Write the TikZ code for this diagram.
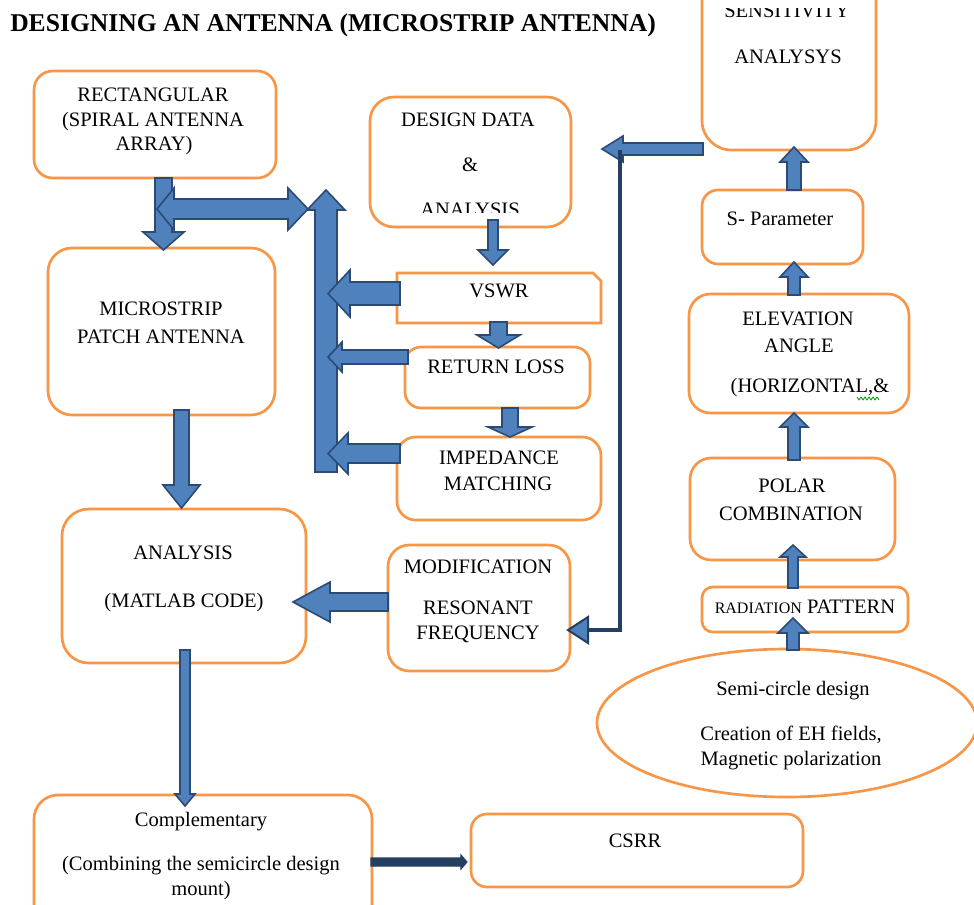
\documentclass[tikz,border=0pt]{standalone}
\usepackage{fontspec}
\setmainfont{Liberation Serif}
\usetikzlibrary{shapes.geometric}
\definecolor{boxor}{HTML}{F79646}
\definecolor{arrfill}{HTML}{4F81BD}
\definecolor{arrline}{HTML}{2C4A74}
\definecolor{darkln}{HTML}{243F60}
\newcommand\mkbox[6]{\node[boxst, rounded corners=#6, minimum width={(#4-#2)*0.75pt}, minimum height={(#5-#3)*0.75pt}] (#1) at ({(#2+#4)/2},{(#3+#5)/2}) {};}
\newcommand\blkH[6]{\filldraw[barrow] (#3,#1) -- (#4,#1) -- (#4,{#1-#6}) -- (#5,{(#1+#2)/2}) -- (#4,{#2+#6}) -- (#4,#2) -- (#3,#2) -- cycle;}
\newcommand\blkV[6]{\filldraw[barrow] (#1,#3) -- (#1,#4) -- ({#1-#6},#4) -- ({(#1+#2)/2},#5) -- ({#2+#6},#4) -- (#2,#4) -- (#2,#3) -- cycle;}
\begin{document}
\begin{tikzpicture}[x=0.75pt,y=-0.75pt,
  boxst/.style={draw=boxor, line width=2pt, inner sep=0pt, outer sep=0pt},
  txt/.style={anchor=base, inner sep=0pt, font=\fontsize{15.4}{18}\selectfont},
  barrow/.style={fill=arrfill, draw=arrline, line width=1.2pt, line join=miter}]
\useasboundingbox (0,0) rectangle (974,904);
\fill[white] (0,0) rectangle (974,904);

% title
\node[anchor=base west, inner sep=0pt, font=\fontsize{19.2}{22}\selectfont\bfseries] (title) at (10,31) {DESIGNING AN ANTENNA (MICROSTRIP ANTENNA)};

% boxes
\mkbox{rect}{34}{71}{276}{178}{14pt}
\mkbox{micro}{48}{248}{275}{415}{18pt}
\mkbox{design}{370}{97}{571}{227}{18pt}
\node[inner sep=0pt, outer sep=0pt, minimum width={204*0.75pt}, minimum height={50*0.75pt}] (vswr) at (499,298) {};
\draw[draw=boxor, line width=2pt] (vswr.south west) -- (vswr.north west) -- ([xshift=-6pt]vswr.north east) -- ([yshift=-6pt]vswr.north east) -- (vswr.south east) -- cycle;
\mkbox{retl}{405}{347}{590}{408}{12pt}
\mkbox{imped}{397}{437}{601}{520}{14pt}
\mkbox{anal}{62}{509}{306}{663}{20pt}
\mkbox{modif}{388}{545}{570}{671}{16pt}
\mkbox{sens}{702}{-40}{876}{150}{22pt}
\mkbox{spar}{702}{190}{863}{264}{12pt}
\mkbox{elev}{689}{294}{909}{413}{16pt}
\mkbox{polar}{690}{458}{895}{560}{16pt}
\mkbox{radp}{702}{587}{908}{632}{8pt}
\node[ellipse, draw=boxor, line width=2pt, inner sep=0pt, minimum width={380*0.75pt}, minimum height={148*0.75pt}] (semi) at (787,723) {};
\mkbox{compl}{34}{795}{372}{935}{18pt}
\mkbox{csrr}{471}{814}{803}{887}{12pt}

% texts
\node[txt] (tR1) at (153,101.7) {RECTANGULAR};
\node[txt] (tR2) at (153,126.7) {(SPIRAL ANTENNA};
\node[txt] (tR3) at (154,150.7) {ARRAY)};
\node[txt] (tM1) at (161,315) {MICROSTRIP};
\node[txt] (tM2) at (161,343) {PATCH ANTENNA};
\node[txt] (tD1) at (468,126.7) {DESIGN DATA};
\node[txt] (tD2) at (470,171.7) {\&};
\begin{scope}
\clip (370,97) rectangle (571,212);
\node[txt] (tD3) at (470,216) {ANALYSIS};
\end{scope}
\node[txt] (tV) at (499,297) {VSWR};
\node[txt] (tRL) at (496,373) {RETURN LOSS};
\node[txt] (tI1) at (499,464) {IMPEDANCE};
\node[txt] (tI2) at (498,490) {MATCHING};
\node[txt] (tA1) at (183,559) {ANALYSIS};
\node[txt] (tA2) at (184,607) {(MATLAB CODE)};
\node[txt] (tMo1) at (478,573) {MODIFICATION};
\node[txt] (tMo2) at (478,614) {RESONANT};
\node[txt] (tMo3) at (478,639) {FREQUENCY};
\begin{scope}
\clip (702,8) rectangle (876,100);
\node[txt] (tS1) at (787,17) {SENSITIVITY};
\end{scope}
\node[txt] (tS2) at (788,63) {ANALYSYS};
\node[txt] (tSP) at (780,225) {S- Parameter};
\node[txt] (tE1) at (798,325) {ELEVATION};
\node[txt] (tE2) at (799,352) {ANGLE};
\node[txt] (tE3) at (810,392) {(HORIZONTAL,\&};
\draw[green!60!black, line width=0.6pt] (857,397) -- (859,400) -- (861,397) -- (863,400) -- (865,397) -- (867,400) -- (869,397) -- (871,400) -- (873,397) -- (875,400) -- (877,397) -- (879,400);
\node[txt] (tP1) at (792,492) {POLAR};
\node[txt] (tP2) at (791,520) {COMBINATION};
\node[txt] (tRP) at (805,613) {{\fontsize{12}{14}\selectfont RADIATION} PATTERN};
\node[txt] (tSe1) at (793,695) {Semi-circle design};
\node[txt] (tSe2) at (791,740) {Creation of EH fields,};
\node[txt] (tSe3) at (791,765) {Magnetic polarization};
\node[txt] (tC1) at (201,826.7) {Complementary};
\node[txt] (tC2) at (201,870) {(Combining the semicircle design};
\node[txt] (tC3) at (201,895) {mount)};
\node[txt] (tCS) at (635,847) {CSRR};

% block arrows
\blkV{155}{172}{178}{232}{250}{12}
\filldraw[barrow] (157,209) -- (174,188) -- (174,199) -- (288,199) -- (288,188) -- (308,209) -- (288,230) -- (288,219) -- (174,219) -- (174,230) -- cycle;
\blkV{315}{337}{472}{210}{190}{8}
\blkH{282}{305}{400}{350}{328}{12}
\blkH{350}{364}{408}{342}{328}{8}
\blkH{444}{463}{400}{348}{328}{11}
\blkV{488}{498}{220}{250}{265}{10}
\blkV{490}{507}{322}{335}{348}{13}
\blkV{502}{518}{408}{427}{437}{14}
\blkV{174}{189}{410}{485}{508}{11}
\blkV{180}{190}{650}{794}{806}{5}
\blkH{593}{611}{388}{330}{293}{11}
\blkV{787}{799}{650}{633}{618}{9}
\blkV{788}{798}{588}{557}{545}{8}
\blkV{788}{800}{460}{427}{413}{8}
\blkV{788}{800}{295}{277}{262}{8}
\blkV{787}{801}{190}{162}{147}{7}
\blkH{143}{155}{703}{623}{602}{7}

% dark connectors
\coordinate (cTop) at (620,150);
\coordinate (cBot) at (620,630);
\coordinate (cEnd) at (588,630);
\draw[darkln, line width=3pt] (cTop) -- (cBot) -- (cEnd);
\filldraw[fill=arrfill, draw=darkln, line width=1.5pt] (588,617) -- (568,630) -- (588,643) -- cycle;
\filldraw[fill=darkln, draw=darkln, line width=0.8pt] (371,858) -- (461,858) -- (461,855) -- (467,862) -- (461,869) -- (461,866) -- (371,866) -- cycle;
\end{tikzpicture}
\end{document}
